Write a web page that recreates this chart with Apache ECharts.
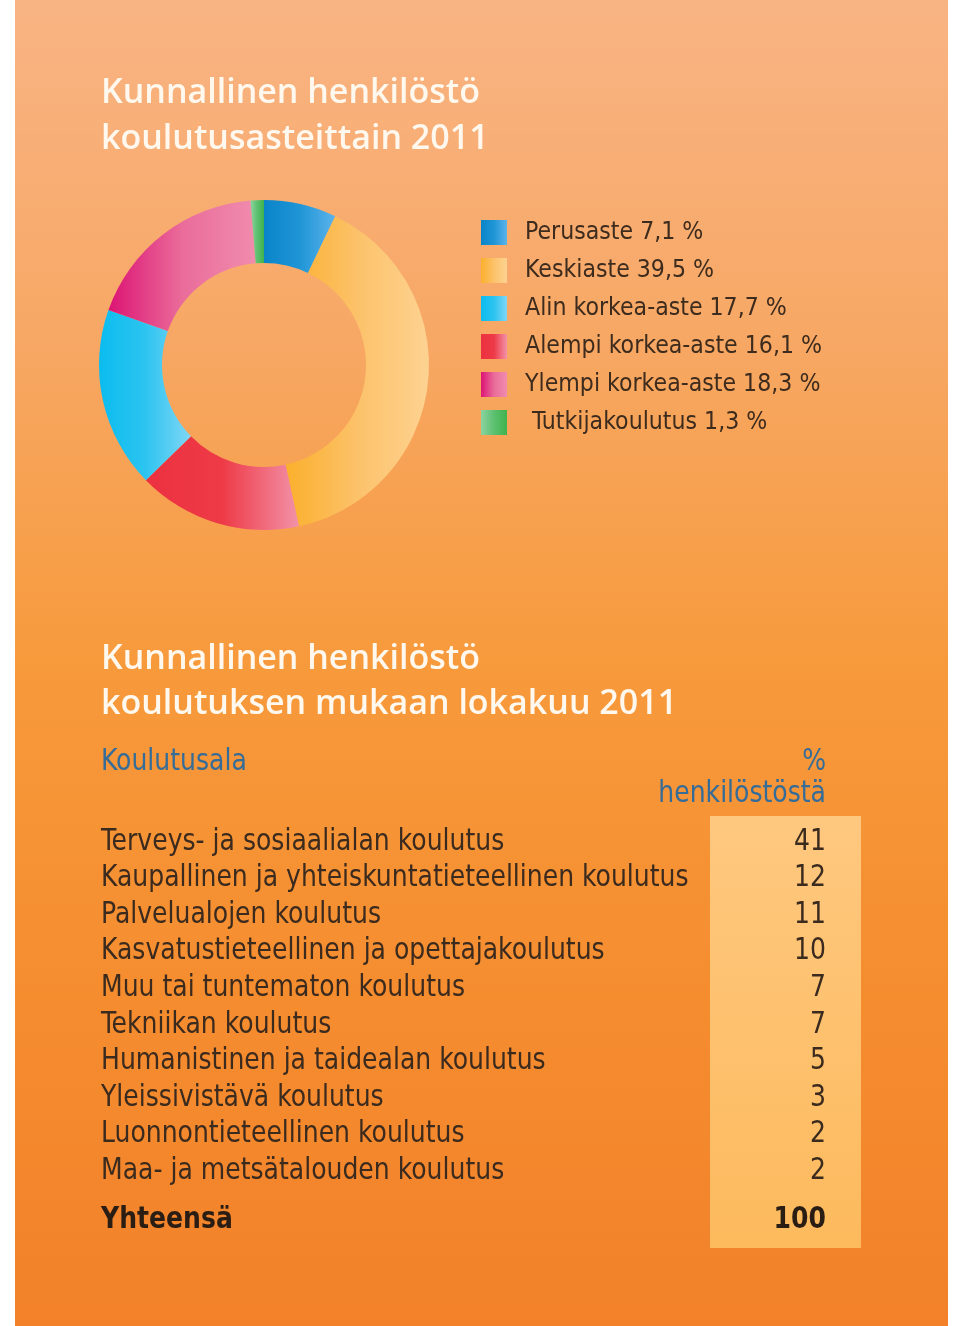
<!DOCTYPE html>
<html><head><meta charset="utf-8">
<script src="https://cdn.jsdelivr.net/npm/echarts@6/dist/echarts.min.js"></script>
<style>html,body{margin:0;padding:0;background:#fff}#c{width:960px;height:1326px}</style>
</head><body><div id="c"></div>
<script>
// Donut data (order drawn clockwise from top)
const levelNames = ['Perusaste','Keskiaste','Alempi korkea-aste','Alin korkea-aste','Ylempi korkea-aste','Tutkijakoulutus'];
const levelValues = [7.1, 39.5, 16.1, 17.7, 18.3, 1.3];
const levelLabels = ['7,1 %','39,5 %','16,1 %','17,7 %','18,3 %','1,3 %'];
const legendOrder = ['Perusaste','Keskiaste','Alin korkea-aste','Alempi korkea-aste','Ylempi korkea-aste','Tutkijakoulutus'];
const levelColors = [
  ['#0a84c9','#1f95d6','#5cb3ea'],
  ['#fbb02c','#fcc26a','#fdd291'],
  ['#ec3140','#ee3a47','#f292a8'],
  ['#0bbcef','#2cc4f0','#80d6f6'],
  ['#dc1474','#ea6c9a','#f08cae'],
  ['#8cd3a0','#5cc070','#3fb24c']
];
// Table data
const fields = ['Terveys- ja sosiaalialan koulutus','Kaupallinen ja yhteiskuntatieteellinen koulutus','Palvelualojen koulutus','Kasvatustieteellinen ja opettajakoulutus','Muu tai tuntematon koulutus','Tekniikan koulutus','Humanistinen ja taidealan koulutus','Yleissivistävä koulutus','Luonnontieteellinen koulutus','Maa- ja metsätalouden koulutus'];
const fieldShares = [41, 12, 11, 10, 7, 7, 5, 3, 2, 2];
const totalLabel = 'Yhteensä';
const totalValue = 100;

const chart = echarts.init(document.getElementById('c'), null, {renderer:'canvas'});
const grad = (c) => ({type:'linear',x:0,y:0,x2:1,y2:0,colorStops:[{offset:0,color:c[0]},{offset:0.5,color:c[1]},{offset:1,color:c[2]}]});

const narrow = '"DejaVu Sans Condensed","DejaVu Sans",sans-serif';
const textCol = '#3b2a1e';
const blueCol = '#356c98';
const rowTop = 842, rowStep = 36.55;
const sx = 0.93;
const titleFont = '600 34px "Open Sans",sans-serif';

function tText(x, y, text, fill, weight, align){
  return {type:'text', x:x, y:y, scaleX:sx,
    style:{text:text, fill:fill, font:(weight||'normal')+' 30px '+narrow, textAlign:align||'left', textVerticalAlign:'middle'}};
}

const graphics = [
  {type:'rect', z:-10, shape:{x:15,y:0,width:933,height:1326},
   style:{fill:{type:'linear',x:0,y:0,x2:0,y2:1,colorStops:[
     {offset:0,color:'#f9b484'},{offset:0.25,color:'#f7a865'},{offset:0.5,color:'#f79a3c'},{offset:0.75,color:'#f58d2f'},{offset:1,color:'#f2812a'}]}}},
  {type:'rect', z:-5, shape:{x:710,y:816,width:151,height:432},
   style:{fill:{type:'linear',x:0,y:0,x2:0,y2:1,colorStops:[{offset:0,color:'#fec87f'},{offset:1,color:'#fdba5d'}]}}},
  {type:'text', x:101, y:93, style:{text:'Kunnallinen henkilöstö', fill:'#fff8ee', font:titleFont, textVerticalAlign:'middle'}},
  {type:'text', x:101, y:139, style:{text:'koulutusasteittain 2011', fill:'#fff8ee', font:titleFont, textVerticalAlign:'middle'}},
  {type:'text', x:101, y:659, style:{text:'Kunnallinen henkilöstö', fill:'#fff8ee', font:titleFont, textVerticalAlign:'middle'}},
  {type:'text', x:101, y:704, style:{text:'koulutuksen mukaan lokakuu 2011', fill:'#fff8ee', font:titleFont, textVerticalAlign:'middle'}},
  tText(101, 762, 'Koulutusala', blueCol),
  tText(826, 762, '%', blueCol, 'normal', 'right'),
  tText(826, 794, 'henkilöstöstä', blueCol, 'normal', 'right')
];
fields.forEach((f,i)=>{
  const y = rowTop + i*rowStep;
  graphics.push(tText(101, y, f, textCol));
  graphics.push(tText(826, y, String(fieldShares[i]), textCol, 'normal', 'right'));
});
graphics.push(tText(101, 1220, totalLabel, '#2a1d14', 'bold'));
graphics.push(tText(826, 1220, String(totalValue), '#2a1d14', 'bold', 'right'));

chart.setOption({
  animation:false,
  graphic:graphics,
  legend:{
    orient:'vertical', left:481, top:220, padding:0, itemWidth:26, itemHeight:25, itemGap:13,
    icon:'rect', data:legendOrder, selectedMode:false,
    formatter:(n)=>{const i=levelNames.indexOf(n); return (n==='Tutkijakoulutus'?' ':'')+n+' '+levelLabels[i];},
    textStyle:{color:'#3d2b1d', fontSize:24.6, fontFamily:'"DejaVu Sans Condensed","DejaVu Sans",sans-serif', padding:[0,0,0,13]}
  },
  series:[{
    type:'pie', center:[264,365], radius:[102,165], startAngle:90, clockwise:true,
    label:{show:false}, labelLine:{show:false}, emphasis:{disabled:true}, silent:true,
    data:levelNames.map((n,i)=>({name:n, value:levelValues[i], itemStyle:{color:grad(levelColors[i])}}))
  }]
});
</script></body></html>
